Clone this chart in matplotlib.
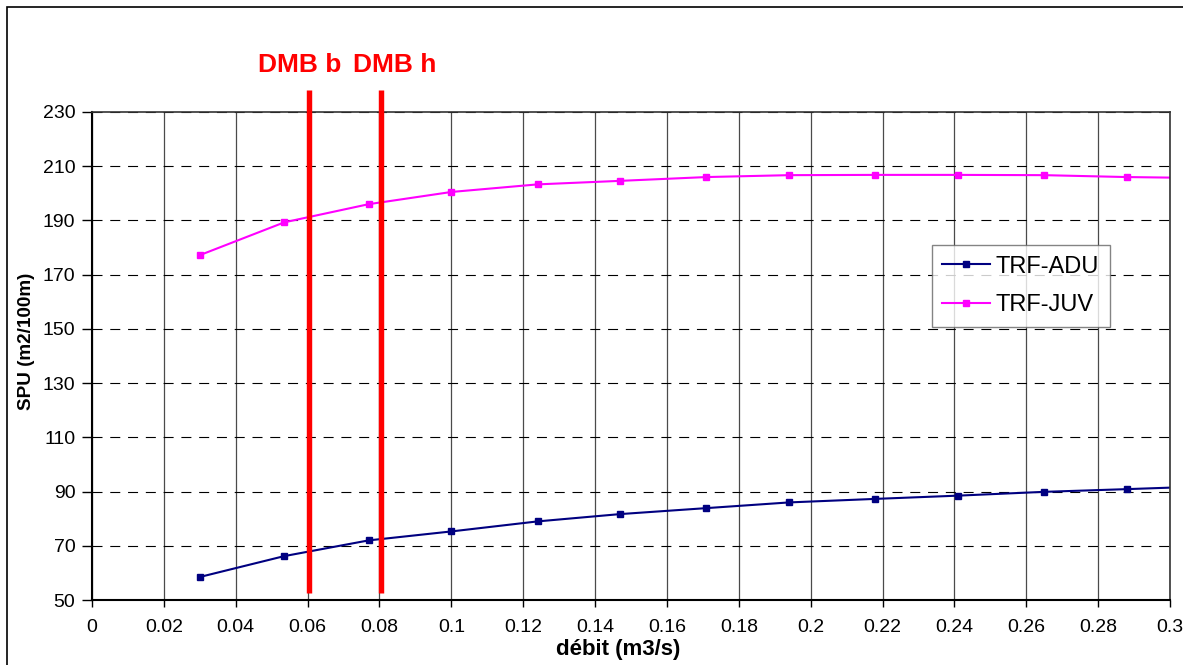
import matplotlib
matplotlib.use("Agg")
import matplotlib.pyplot as plt
from matplotlib.patches import Rectangle

plt.rcParams['font.family'] = ['Liberation Sans', 'DejaVu Sans']

# debit values (m3/s) and SPU values (m2/100m)
debit = [0.030, 0.0535, 0.077, 0.100, 0.124, 0.147, 0.171, 0.194, 0.218, 0.241, 0.265, 0.288, 0.312]
trf_adu = [58.5, 66.2, 72.0, 75.3, 79.0, 81.7, 83.9, 86.0, 87.3, 88.5, 89.9, 90.9, 92.0]
trf_juv = [177.2, 189.3, 196.0, 200.5, 203.3, 204.6, 206.0, 206.7, 206.8, 206.8, 206.7, 206.0, 205.6]

# DMB markers (basse / haute)
dmb_x = [0.0605, 0.0805]
dmb_labels = ["DMB b", "DMB h"]
dmb_label_x = [0.0577, 0.0843]

xtick_vals = [i * 0.02 for i in range(16)]
xtick_labels = ['0', '0.02', '0.04', '0.06', '0.08', '0.1', '0.12', '0.14', '0.16',
                '0.18', '0.2', '0.22', '0.24', '0.26', '0.28', '0.3']

fig = plt.figure(figsize=(11.83, 6.65), dpi=100)
ax = fig.add_axes([0.0778, 0.0977, 0.9112, 0.7339])

# outer frame of the chart
fig.patches.append(Rectangle((0.006, -0.01), 1.5, 1.0, transform=fig.transFigure,
                             fill=False, edgecolor='black', linewidth=1.2))

ax.plot(debit, trf_adu, color='#000080', marker='s', markersize=5, linewidth=1.5, label='TRF-ADU')
ax.plot(debit, trf_juv, color='#FF00FF', marker='s', markersize=5, linewidth=1.5, label='TRF-JUV')

for xv in dmb_x:
    ax.plot([xv, xv], [52.6, 238.1], color='#FF0000', linewidth=3.9,
            clip_on=False, zorder=5, solid_capstyle='butt')
for lx, lab in zip(dmb_label_x, dmb_labels):
    ax.text(lx, 247.5, lab, color='#FF0000', fontsize=19, fontweight='bold',
            ha='center', va='center', clip_on=False)

ax.set_xlim(0, 0.3)
ax.set_ylim(50, 230)
ax.set_xticks(xtick_vals)
ax.set_xticklabels(xtick_labels)
ax.set_yticks(range(50, 231, 20))
ax.tick_params(axis='both', labelsize=14, direction='out', width=1)
ax.tick_params(axis='x', length=5, pad=9)
ax.tick_params(axis='y', length=7, pad=5)

ax.xaxis.grid(True, color='#4a4a4a', linewidth=0.9, linestyle='-')
ax.yaxis.grid(True, color='black', linewidth=0.8, linestyle=(0, (9, 7)))
ax.set_axisbelow(True)
for s in ['left', 'bottom']:
    ax.spines[s].set_linewidth(1.5)
for s in ['top', 'right']:
    ax.spines[s].set_color('#333333')
    ax.spines[s].set_linewidth(1.2)

ax.set_xlabel('débit (m3/s)', fontsize=16, fontweight='bold')
ax.xaxis.label.set_va('center')
ax.xaxis.set_label_coords(0.488, -0.101)
ax.set_ylabel('SPU (m2/100m)', fontsize=13.6, fontweight='bold')
ax.yaxis.label.set_va('center')
ax.yaxis.set_label_coords(-0.0612, 0.531)

leg = ax.legend(loc='upper left', bbox_to_anchor=(0.779, 0.7275), borderaxespad=0,
                fontsize=17, frameon=True, fancybox=False, edgecolor='#666666',
                borderpad=0.45, handlelength=2.0, handletextpad=0.25, labelspacing=0.7)
leg.get_frame().set_linewidth(1.0)

fig.savefig('out.png', dpi=100)
